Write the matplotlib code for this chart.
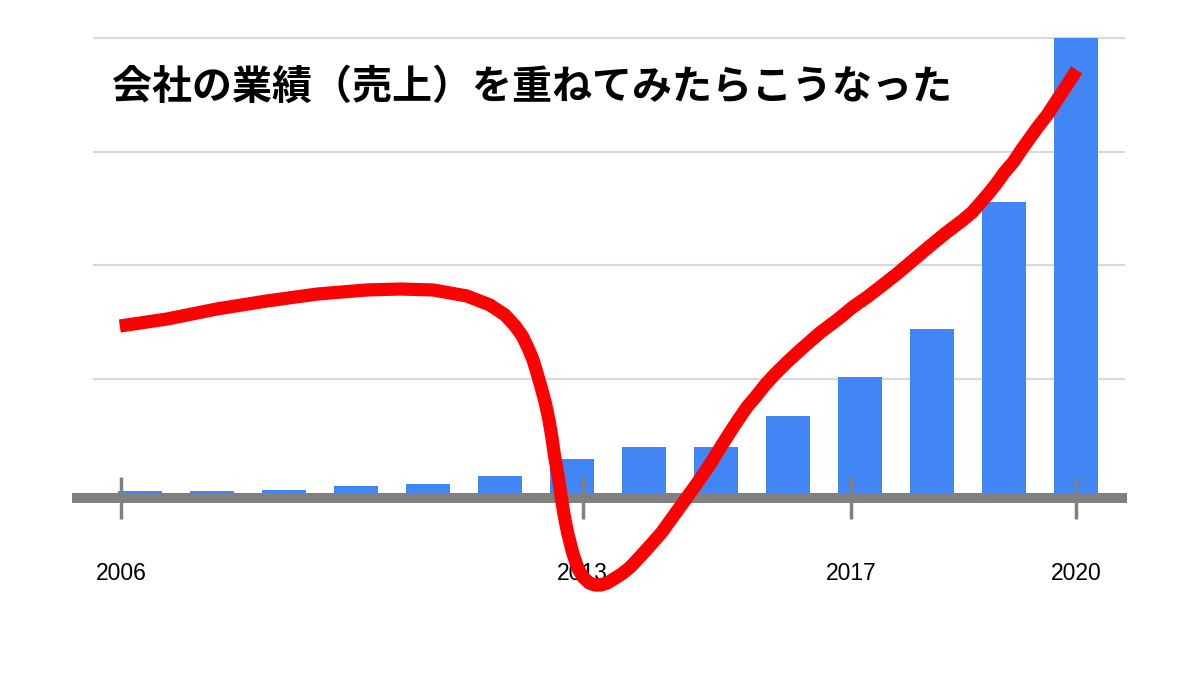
import matplotlib.pyplot as plt

# 売上（棒）: 2007〜2020
years = list(range(2007, 2021))
sales = [2, 2, 3, 6, 8, 15, 30, 40, 40, 68, 102, 144, 256, 400]

# 赤い線（手描き風の重ね線）: 画像から読み取った点
line_x = [2006.72, 2007.38, 2008.07, 2008.76, 2009.46, 2010.15, 2010.61, 2011.07,
          2011.54, 2011.86, 2012.07, 2012.21, 2012.31, 2012.39, 2012.46, 2012.51,
          2012.57, 2012.63, 2012.68, 2012.72, 2012.76, 2012.81, 2012.85, 2012.89,
          2012.94, 2013.01, 2013.08, 2013.15, 2013.24, 2013.32, 2013.40, 2013.49,
          2013.58, 2013.69, 2013.81, 2013.94, 2014.08, 2014.25, 2014.40, 2014.57,
          2014.74, 2014.92, 2015.10, 2015.26, 2015.43, 2015.56, 2015.68, 2015.82,
          2015.99, 2016.17, 2016.44, 2016.68, 2016.90, 2017.10, 2017.28, 2017.51,
          2017.74, 2017.97, 2018.21, 2018.32, 2018.43, 2018.56, 2018.67, 2018.79,
          2018.90, 2019.01, 2019.13, 2019.24, 2019.36, 2019.47, 2019.60, 2019.71,
          2019.82, 2020.01]
line_y = [146.8, 153.0, 161.8, 168.8, 174.9, 178.5, 179.3, 178.5,
          173.2, 165.3, 156.5, 146.8, 138.0, 127.5, 116.9, 106.4,
          93.2, 79.1, 64.2, 49.2, 31.6, 14.1, -3.5, -19.3,
          -35.2, -52.7, -65.9, -73.8, -79.1, -80.9, -80.9, -79.1,
          -75.6, -71.2, -65.1, -56.3, -46.6, -34.3, -21.1, -6.2,
          8.8, 25.5, 44.0, 59.8, 75.6, 85.3, 94.9, 104.6,
          115.2, 125.7, 140.7, 152.1, 163.5, 172.3, 181.1, 192.5,
          204.8, 217.1, 229.5, 234.7, 240.0, 247.0, 254.9, 263.7,
          272.5, 282.2, 291.0, 301.5, 312.1, 321.8, 332.3, 343.0,
          353.4, 371.9]

tick_pos = [2006.74, 2013.15, 2016.88, 2020.0]
tick_labels = ['2006', '2013', '2017', '2020']
grid_vals = [100, 200, 300, 400]

title = '会社の業績（売上）を重ねてみたらこうなった'

fig = plt.figure(figsize=(12, 6.75), dpi=100, facecolor='white')
ax = fig.add_axes([72 / 1200, 0, 1055 / 1200, 1])
ax.set_xlim(2006.056, 2020.708)
ax.set_ylim(-160, 433.4)

# grid lines
ax.hlines(grid_vals, 2006.35, 2020.68, color='#d9d9d9', lw=1.5, zorder=0)

# bars
ax.bar(years, sales, width=0.62, color='#4285f4', zorder=1)

# red line
ax.plot(line_x, line_y, color='#ff0000', lw=9.5, solid_capstyle='butt',
        solid_joinstyle='round', zorder=3)

# axis band
for s in ['top', 'right', 'left']:
    ax.spines[s].set_visible(False)
ax.spines['bottom'].set_position(('data', -4.4))
ax.spines['bottom'].set_linewidth(7.2)
ax.spines['bottom'].set_color('#808080')
ax.spines['bottom'].set_capstyle('butt')
ax.set_yticks([])

ax.set_xticks(tick_pos, tick_labels)
ax.tick_params(axis='x', direction='inout', length=30, width=2.5, color='#808080',
               pad=31, labelsize=16.5, labelcolor='black')
for lab in ax.get_xticklabels():
    lab.set_fontfamily('Liberation Sans')

fig.text(112 / 1200, 1 - 87 / 675, title, ha='left', va='center',
         fontsize=28.8, fontweight='bold', color='black',
         family=['Noto Sans CJK JP', 'DejaVu Sans'])

fig.savefig('out.png', dpi=100, facecolor='white')
